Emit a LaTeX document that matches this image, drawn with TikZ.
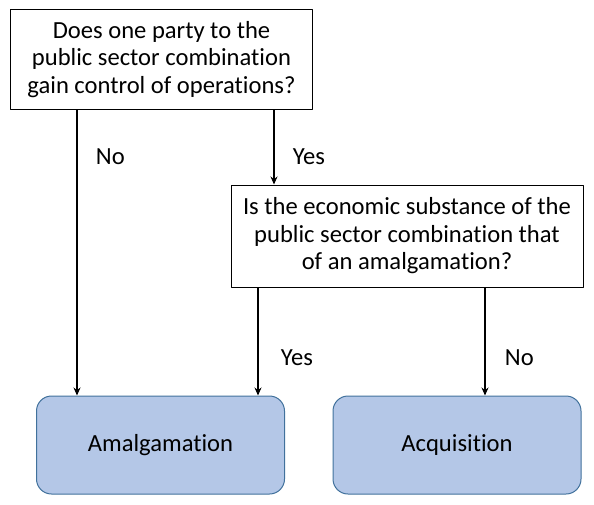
\documentclass[tikz,border=0pt]{standalone}
\usepackage{fontspec}
\setmainfont{Carlito}[Ligatures=NoCommon]
\usetikzlibrary{arrows.meta}
\definecolor{boxblue}{HTML}{B4C7E7}
\definecolor{boxedge}{HTML}{41719C}
\tikzset{
	question/.style={draw, line width=1pt, align=center, inner sep=0pt},
	outcome/.style={draw=boxedge, fill=boxblue, line width=1pt, rounded corners=15pt, minimum width=248pt, minimum height=98pt},
	answer/.style={inner sep=0pt, anchor=west},
}
\begin{document}
\begin{tikzpicture}[x=1pt, y=-1pt, font=\fontsize{24.6}{27.5}\selectfont, line join=round, >={Stealth[length=8pt,width=7pt]}]
	\useasboundingbox (0,0) rectangle (594,504);
	\node[question, minimum width=302pt, minimum height=100pt] (q1) at (161.5,59.5) {Does one party to the\\public sector combination\\gain control of operations?};
	\node[question, minimum width=352pt, minimum height=102pt] (q2) at (407,236) {Is the economic substance of the\\public sector combination that\\of an amalgamation?};
	\node[outcome] (amal) at (160.5,445) {Amalgamation};
	\node[outcome] (acq) at (457,445) {Acquisition};
	% arrows
	\draw[->, line width=1.8pt] ([xshift=-84.5]q1.south) -- ([xshift=-84.5]q1.south |- amal.north) node[answer, pos=0.164, xshift=18pt] (no1) {No};
	\draw[->, line width=1.8pt] ([xshift=112.5]q1.south) -- ([xshift=112.5]q1.south |- q2.north) node[answer, pos=0.63, xshift=18pt] (yes1) {Yes};
	\draw[->, line width=1.8pt] ([xshift=-149]q2.south) -- ([xshift=-149]q2.south |- amal.north) node[answer, pos=0.65, xshift=22pt] (yes2) {Yes};
	\draw[->, line width=1.8pt] ([xshift=78]q2.south) -- ([xshift=78]q2.south |- acq.north) node[answer, pos=0.65, xshift=19pt] (no2) {No};
\end{tikzpicture}
\end{document}
